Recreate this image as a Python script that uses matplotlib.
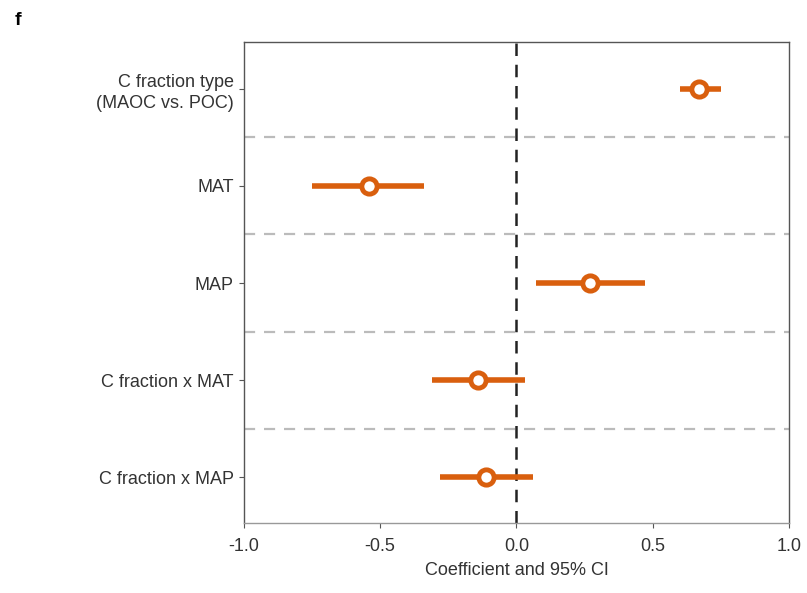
import matplotlib
matplotlib.use('Agg')
import matplotlib.pyplot as plt

# coefficients and 95% CI, top to bottom
terms = ['C fraction type\n(MAOC vs. POC)', 'MAT', 'MAP',
         'C fraction x MAT', 'C fraction x MAP']
coef = [0.67, -0.54, 0.27, -0.14, -0.11]
ci_lo = [0.60, -0.75, 0.07, -0.31, -0.28]
ci_hi = [0.75, -0.34, 0.47, 0.03, 0.06]

ORANGE = '#D95F0E'
plt.rcParams['font.family'] = ['Liberation Sans', 'DejaVu Sans']

fig = plt.figure(figsize=(8.07, 5.93), dpi=100)
ax = fig.add_axes([0.302, 0.118, 0.676, 0.811])

ypos = list(range(len(terms)))[::-1]
for y, c, lo, hi in zip(ypos, coef, ci_lo, ci_hi):
    ax.plot([lo, hi], [y, y], color=ORANGE, lw=4, solid_capstyle='butt', zorder=3)
    ax.plot(c, y, 'o', ms=11, mfc='white', mec=ORANGE, mew=3.5, zorder=4)

# separators between rows
for y in ypos[:-1]:
    ax.axhline(y - 0.5, color='#BBBBBB', lw=1.6, ls=(0, (5, 4)), zorder=1)
ax.axvline(0, color='#222222', lw=1.8, ls=(0, (5, 3.5)), zorder=2)

ax.set_xlim(-1, 1)
ax.set_ylim(-0.47, 4.48)
ax.set_xticks([-1.0, -0.5, 0.0, 0.5, 1.0])
ax.set_xticklabels(['-1.0', '-0.5', '0.0', '0.5', '1.0'])
ax.set_yticks(ypos)
ax.set_yticklabels(terms, fontsize=13, color='#333333', linespacing=1.35)
ax.tick_params(axis='x', labelsize=13, labelcolor='#333333', color='#555555', pad=7)
ax.tick_params(axis='y', color='#555555')
ax.set_xlabel('Coefficient and 95% CI', fontsize=13, color='#333333', labelpad=5)
for s in ax.spines.values():
    s.set_color('#555555')
    s.set_linewidth(1.0)
ax.spines['bottom'].set_color('#999999')

fig.text(0.018, 0.958, 'f', fontsize=14, fontweight='bold')

fig.savefig('out.png', dpi=100)
